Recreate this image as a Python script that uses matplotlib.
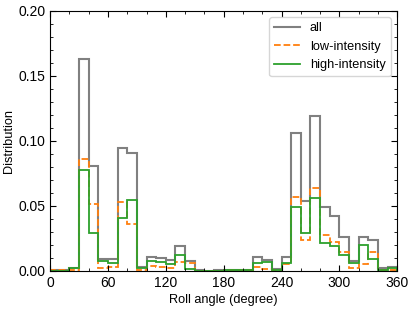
import numpy as np
import matplotlib
matplotlib.use("Agg")
import matplotlib.pyplot as plt
from matplotlib.ticker import MultipleLocator

plt.rcParams['font.family'] = ['Liberation Sans', 'DejaVu Sans']
plt.rcParams['font.size'] = 10

# roll-angle bins, 10 degree wide
edges = np.arange(0, 361, 10)

all_vals = [0.001, 0.001, 0.002, 0.163, 0.081, 0.0095, 0.009, 0.0944, 0.0905, 0.0028,
            0.011, 0.0097, 0.0082, 0.0195, 0.0074, 0.0004, 0.0002, 0.0004, 0.0008, 0.0008,
            0.0010, 0.0105, 0.0085, 0.0015, 0.0105, 0.106, 0.054, 0.119, 0.049, 0.042,
            0.026, 0.008, 0.026, 0.024, 0.002, 0.003]
low_vals = [0.001, 0.0008, 0.0005, 0.086, 0.0513, 0.0026, 0.0033, 0.0533, 0.0364, 0.001,
            0.004, 0.0033, 0.0026, 0.0067, 0.0062, 0.0002, 0.0001, 0.0002, 0.0004, 0.0004,
            0.0004, 0.003, 0.0015, 0.0005, 0.0056, 0.057, 0.024, 0.0636, 0.028, 0.0225,
            0.0145, 0.0025, 0.0055, 0.0145, 0.001, 0.001]
high_vals = [0.0, 0.0003, 0.002, 0.0777, 0.0295, 0.0074, 0.0064, 0.041, 0.0544, 0.002,
             0.0079, 0.0067, 0.0056, 0.0126, 0.0018, 0.0002, 0.0001, 0.0002, 0.0006, 0.0006,
             0.0008, 0.0064, 0.0072, 0.001, 0.006, 0.049, 0.0295, 0.056, 0.0215, 0.0195,
             0.012, 0.006, 0.020, 0.009, 0.001, 0.002]

fig = plt.figure(figsize=(4.15, 3.09), dpi=100)
ax = fig.add_axes([0.121, 0.123, 0.836, 0.842])

ax.stairs(all_vals, edges, color='gray', lw=1.5, label='all')
ax.stairs(low_vals, edges, color='#ff7f0e', lw=1.3, ls='--', label='low-intensity')
ax.stairs(high_vals, edges, color='#2ca02c', lw=1.3, label='high-intensity')

ax.set_xlim(0, 360)
ax.set_ylim(0, 0.20)
ax.xaxis.set_major_locator(MultipleLocator(60))
ax.xaxis.set_minor_locator(MultipleLocator(20))
ax.yaxis.set_major_locator(MultipleLocator(0.05))
ax.yaxis.set_minor_locator(MultipleLocator(0.01))
ax.tick_params(which='both', direction='in', top=True, right=True)
ax.tick_params(which='major', length=4)
ax.tick_params(which='minor', length=2)
ax.set_xlabel('Roll angle (degree)', fontsize=9.2, labelpad=3)
ax.set_ylabel('Distribution', fontsize=9.2, labelpad=2)
ax.legend(loc='upper right', fancybox=True, fontsize=9.2)

fig.savefig('out.png', dpi=100)
